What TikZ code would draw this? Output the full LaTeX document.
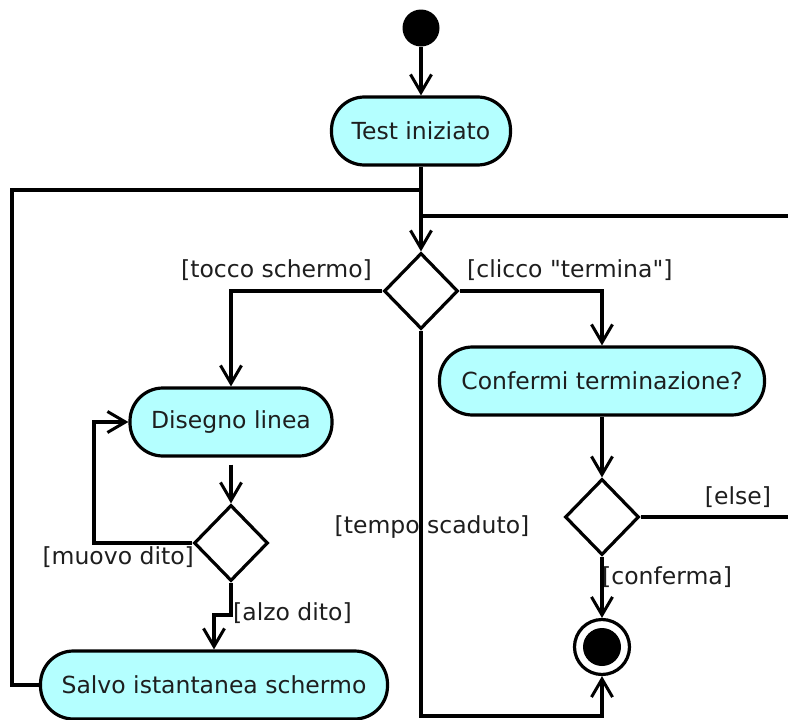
\documentclass[tikz,border=0pt]{standalone}
\usepackage{fontspec}
\newfontfamily\dejavu{DejaVu Sans}
\usetikzlibrary{shapes.geometric,arrows.meta}
\definecolor{actfill}{RGB}{180,255,255}
\definecolor{ink}{RGB}{30,30,30}
\begin{document}
\begin{tikzpicture}[x=1pt,y=-1pt,
  every node/.style={font=\dejavu\fontsize{23.5}{28}\selectfont, text=ink},
  line/.style={line width=3.2pt, line join=miter},
  arr/.style={line, -{Straight Barb[length=18pt,width=21pt,line width=3pt]}},
  action/.style={draw, line width=3.2pt, fill=actfill, rectangle, rounded corners=33pt,
                 minimum height=68pt, inner sep=0pt},
  choice/.style={draw, line width=3.2pt, fill=white, diamond, minimum width=74pt,
                 minimum height=76pt, inner sep=0pt},
  guard/.style={inner sep=0pt}
]
\useasboundingbox (0,0) rectangle (788,720);

% nodes
\node[circle, fill=black, minimum size=37pt, inner sep=0pt] (start) at (421,28) {};
\node[action, minimum width=179pt] (test) at (421,131) {Test iniziato};
\node[choice] (dec) at (421,291) {};
\node[action, minimum width=202pt] (draw) at (231,422) {Disegno linea};
\node[action, minimum width=325pt] (conf) at (602,381) {Confermi terminazione?};
\node[choice] (dec1) at (231,543) {};
\node[choice] (dec2) at (602,517) {};
\node[action, minimum width=347pt] (save) at (214,685) {Salvo istantanea schermo};
\node[circle, draw, line width=3.2pt, fill=white, minimum size=55pt, inner sep=0pt] (fin) at (602,647) {};
\node[circle, fill=black, minimum size=38pt, inner sep=0pt] (fincore) at (fin) {};

% routing points
\coordinate (j1) at (421,190);
\coordinate (lx) at (12,190);
\coordinate (j2) at (421,216);
\coordinate (rx) at (792,216);
\coordinate (ml) at (94,543);
\coordinate (ad) at (231,615);
\coordinate (bt) at (421,716);

% connectors
\draw[arr] (start) -- (test);
\draw[line] (test.south) -- (j1);
\draw[arr] (j1) -- (dec.north);
\draw[line] (save.west) -| (lx) -- (j1);
\draw[line] (dec2.east) -| (rx) -- (j2);
\draw[arr] (dec.west) -| (draw.north);
\draw[arr] (dec.east) -| (conf.north);
\draw[arr, shorten <=7pt] (draw.south) -- (dec1.north);
\draw[arr] (dec1.west) -- (ml) |- (draw.west);
\draw[arr] (dec1.south) -- (ad) -| (save.north);
\draw[arr] (dec.south) -- (bt) -| (fin.south);
\draw[arr] (conf.south) -- (dec2.north);
\draw[arr] (dec2.south) -- (fin.north);

% guards
\node[guard, anchor=east] (g1) at (372,270) {[tocco schermo]};
\node[guard, anchor=west] (g2) at (467,270) {[clicco "termina"]};
\node[guard, anchor=east] (g3) at (194,557) {[muovo dito]};
\node[guard, anchor=west] (g4) at (233,613) {[alzo dito]};
\node[guard] (g5) at (432,527) {[tempo scaduto]};
\node[guard, anchor=west] (g6) at (602,577) {[conferma]};
\node[guard] (g7) at (738,497) {[else]};
\end{tikzpicture}
\end{document}
